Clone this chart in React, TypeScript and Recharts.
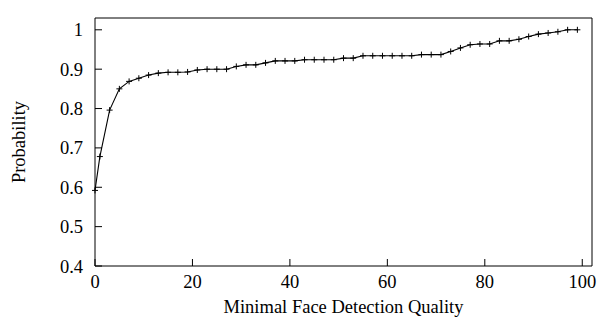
import { LineChart, Line, XAxis, YAxis, Label } from "recharts";

const quality = [
  0, 1, 3, 5, 7, 9, 11, 13, 15, 17, 19, 21, 23, 25, 27, 29, 31, 33, 35, 37, 39, 41, 43, 45, 47,
  49, 51, 53, 55, 57, 59, 61, 63, 65, 67, 69, 71, 73, 75, 77, 79, 81, 83, 85, 87, 89, 91, 93, 95,
  97, 99,
];
const probability = [
  0.592, 0.678, 0.796, 0.85, 0.869, 0.877, 0.885, 0.89, 0.892, 0.892, 0.893, 0.898, 0.9, 0.9,
  0.9, 0.907, 0.911, 0.911, 0.916, 0.921, 0.921, 0.921, 0.924, 0.924, 0.924, 0.924, 0.928, 0.928,
  0.934, 0.934, 0.934, 0.934, 0.934, 0.934, 0.937, 0.937, 0.937, 0.945, 0.954, 0.962, 0.964,
  0.964, 0.972, 0.972, 0.976, 0.983, 0.989, 0.992, 0.995, 1.0, 1.0,
];
const xTicks = [0, 20, 40, 60, 80, 100];
const yTicks = [0.4, 0.5, 0.6, 0.7, 0.8, 0.9, 1];

const data = quality.map((q, i) => ({ q, p: probability[i] }));

const FONT = '"Liberation Serif", "Times New Roman", serif';
const FONT_SIZE = 18.5;
const tickStyle = { fontFamily: FONT, fontSize: FONT_SIZE, fill: "#000" };

// gnuplot-style "+" point
function PlusDot(props: any) {
  const { cx, cy, index } = props;
  if (cx == null || cy == null) return <g key={index} />;
  return (
    <g key={index}>
      <line x1={cx - 3} x2={cx + 3} y1={cy} y2={cy} stroke="#000" strokeWidth={1} />
      <line x1={cx} x2={cx} y1={cy - 3} y2={cy + 3} stroke="#000" strokeWidth={1} />
    </g>
  );
}

export default function App() {
  return (
    <div style={{ position: "fixed", left: 0, top: 0, background: "#fff" }}>
      <LineChart width={603} height={322} data={data} margin={{ top: 17, right: 10, bottom: 0, left: 0 }}>
        <XAxis
          xAxisId="bottom"
          dataKey="q"
          type="number"
          domain={[0, 102]}
          ticks={xTicks}
          height={56}
          tickSize={-7}
          tickMargin={16}
          tick={tickStyle}
          stroke="#000"
          tickLine={{ stroke: "#000" }}
        >
          <Label
            value="Minimal Face Detection Quality"
            position="insideBottom"
            offset={9}
            style={{ fontFamily: FONT, fontSize: FONT_SIZE, fill: "#000" }}
          />
        </XAxis>
        <XAxis
          xAxisId="top"
          orientation="top"
          dataKey="q"
          type="number"
          domain={[0, 102]}
          ticks={xTicks}
          height={1}
          tickSize={-7}
          tick={false}
          stroke="#000"
        />
        <YAxis
          yAxisId="left"
          type="number"
          domain={[0.4, 1.03]}
          ticks={yTicks}
          width={95}
          tickSize={-7}
          tickMargin={19}
          tick={tickStyle}
          stroke="#000"
        >
          <Label
            content={({ viewBox }: any) => {
              const cx = viewBox.x + 24.5;
              const cy = viewBox.y + viewBox.height / 2;
              return (
                <text
                  x={cx}
                  y={cy}
                  transform={`rotate(-90 ${cx} ${cy})`}
                  textAnchor="middle"
                  style={{ fontFamily: FONT, fontSize: FONT_SIZE, fill: "#000" }}
                >
                  Probability
                </text>
              );
            }}
          />
        </YAxis>
        <YAxis
          yAxisId="right"
          orientation="right"
          type="number"
          domain={[0.4, 1.03]}
          ticks={yTicks}
          width={1}
          tickSize={-7}
          tick={false}
          stroke="#000"
        />
        <Line
          xAxisId="bottom"
          yAxisId="left"
          dataKey="p"
          type="linear"
          stroke="#000"
          strokeWidth={1.1}
          dot={PlusDot}
          activeDot={false}
          isAnimationActive={false}
        />
      </LineChart>
    </div>
  );
}
